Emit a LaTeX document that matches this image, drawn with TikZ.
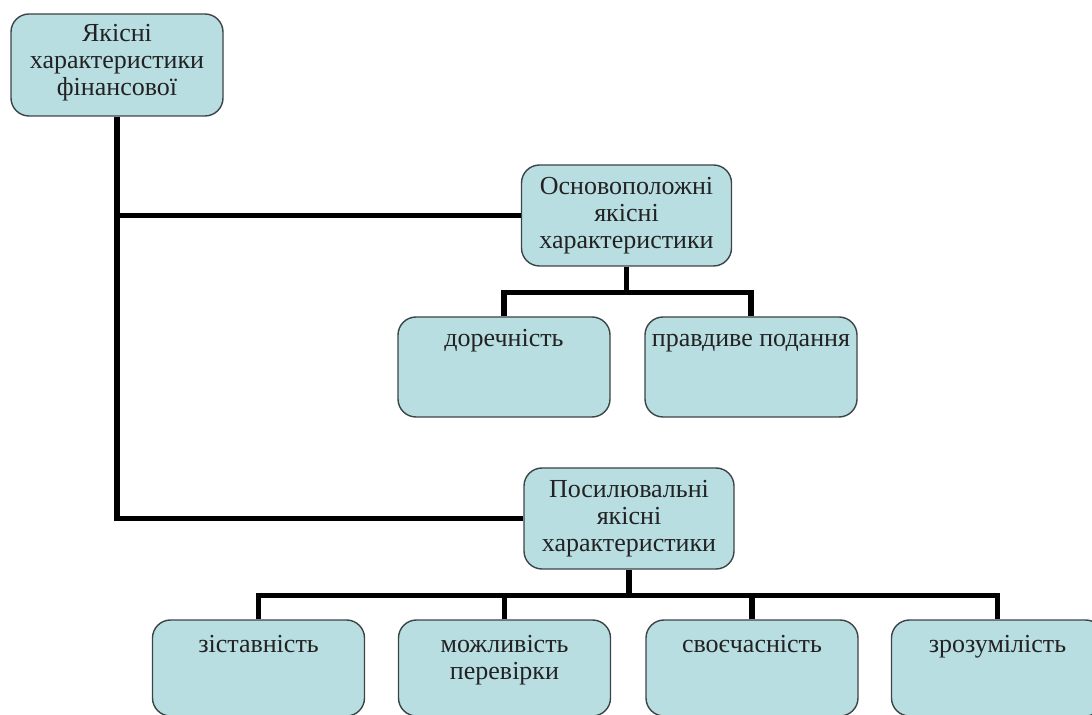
\documentclass[tikz,border=0pt]{standalone}
\usepackage{fontspec}
\setmainfont{Liberation Serif}
\usetikzlibrary{positioning}
\definecolor{qcfill}{HTML}{B8DEE2}
\definecolor{qcline}{HTML}{3C4446}
\definecolor{qctext}{HTML}{222222}
\newcommand{\qfont}{\fontsize{13}{13.5}\selectfont}
% box text set from the top: height, first baseline, text
\newcommand{\toptext}[3]{\parbox[c][#1][t]{106pt}{\centering\rule{0pt}{#2}#3}}

\begin{document}
\begin{tikzpicture}[x=0.5pt, y=-0.5pt,
    qbox/.style={draw=qcline, line width=0.7pt, fill=qcfill, rounded corners=9pt,
        inner sep=0pt, font=\qfont, text=qctext},
    qmid/.style={qbox, align=center, minimum width=105pt, minimum height=50.5pt},
    link/.style={line width=2.6pt, black}
]
    \useasboundingbox (0,0) rectangle (1092,715);
    \clip (0,0) rectangle (1092,715);

    % Root
    \node[qbox] (root) at (117,65) {\toptext{51pt}{14pt}{Якісні\\характеристики\\фінансової}};

    % Groups
    \node[qmid] (basic) at (626.5,215.5) {Основоположні\\якісні\\характеристики};
    \node[qmid] (enh) at (629,518.5) {Посилювальні\\якісні\\характеристики};

    % Fundamental characteristics
    \node[qbox] (relev) at (504,367) {\toptext{50pt}{15pt}{доречність}};
    \node[qbox] (faith) at (751,367) {\toptext{50pt}{15pt}{правдиве подання}};

    % Enhancing characteristics
    \node[qbox] (compar) at (258.5,668) {\toptext{48pt}{16pt}{зіставність}};
    \node[qbox] (verif) at (504.5,668) {\toptext{48pt}{16pt}{можливість\\перевірки}};
    \node[qbox] (timel) at (752,668) {\toptext{48pt}{16pt}{своєчасність}};
    \node[qbox] (under) at (997.5,668) {\toptext{48pt}{16pt}{зрозумілість}};

    % Links
    \draw[link] (root.south) |- (enh.west);
    \draw[link] (root.south |- basic.west) -- (basic.west);

    \draw[link] (basic.south) -- ++(0,25.5) coordinate (bj);
    \draw[link] (relev.north) |- (bj) -| (faith.north);

    \draw[link] (enh.south) -- ++(0,26) coordinate (ej);
    \draw[link] (compar.north) |- (ej) -| (under.north);
    \draw[link] (verif.north) -- (verif.north |- ej);
    \draw[link] (timel.north) -- (timel.north |- ej);
\end{tikzpicture}
\end{document}
